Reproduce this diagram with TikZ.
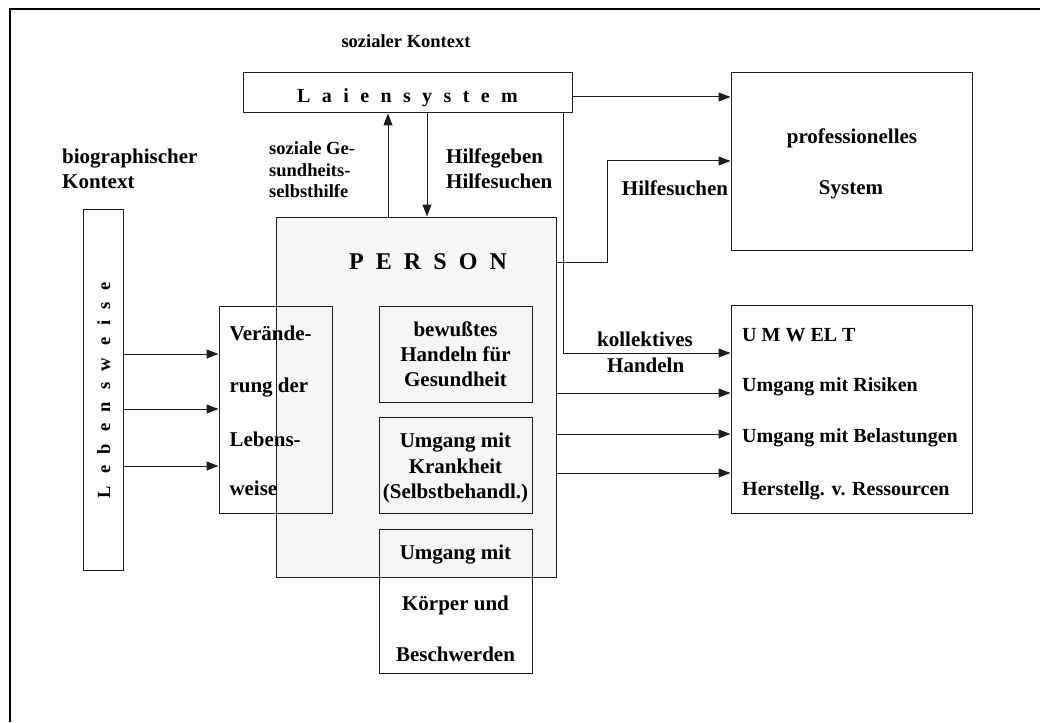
\documentclass[tikz,border=0pt]{standalone}
\usepackage{fontspec}
\setmainfont{Liberation Serif}
\usetikzlibrary{arrows.meta}
\definecolor{pfill}{RGB}{246,246,246}
\definecolor{lc}{RGB}{30,30,30}
\newcommand\gapL{\hspace{11.4pt}}
\newcommand\gapP{\hspace{12.1pt}}
\newcommand\gapW{\hspace{11.7pt}}
\begin{document}
\begin{tikzpicture}[x=1pt,y=-1pt,
  box/.style={draw=lc, line width=1pt, inner sep=0pt},
  t/.style={inner sep=0pt, anchor=base, font=\fontsize{21}{25}\selectfont\bfseries},
  tl/.style={t, anchor=base west},
  ts/.style={font=\fontsize{18.5}{22}\selectfont\bfseries},
  tu/.style={font=\fontsize{20}{24}\selectfont\bfseries},
  ln/.style={draw=lc, line width=1pt},
  arr/.style={ln, -{Triangle[length=12pt,width=9pt]}}
]
\useasboundingbox (0,0) rectangle (1040,722);
% frame
\draw[line width=2pt] (1040,9) -- (10,9) -- (10,722);

% helper coordinates
\coordinate (y97) at (0,97);
\coordinate (x388) at (388,0);
\coordinate (x427) at (427,0);
\coordinate (x563) at (563,0);
\coordinate (y353) at (0,353);
\coordinate (y262) at (0,262);
\coordinate (x607) at (607,0);
\coordinate (y161) at (0,161);

% boxes
\node[box, fill=pfill, minimum width=280pt, minimum height=360pt] (person) at (416,397) {};
\node[box, minimum width=329pt, minimum height=40pt] (lai) at (407.5,93) {};
\node[box, minimum width=241pt, minimum height=177pt] (prof) at (851.5,161.5) {};
\node[box, minimum width=241pt, minimum height=208pt] (umw) at (851.5,409) {};
\node[box, minimum width=40pt, minimum height=361pt] (leb) at (103,389.5) {};
\node[box, minimum width=113pt, minimum height=207pt] (ver) at (275.5,409.5) {};
\node[box, minimum width=153pt, minimum height=96pt] (bew) at (455.5,354) {};
\node[box, minimum width=153pt, minimum height=96pt] (kra) at (455.5,465) {};
\node[box, minimum width=153pt, minimum height=144pt] (koe) at (455.5,601) {};

% connectors
\draw[arr] (lai.east |- y97) -- (prof.west |- y97);
\draw[arr] (person.north -| x388) -- (lai.south -| x388);
\draw[arr] (lai.south -| x427) -- (person.north -| x427);
\draw[arr] (lai.south -| x563) |- (umw.west |- y353);
\draw[arr] (person.east |- y262) -| (x607 |- y161) -- (prof.west |- y161);
\foreach \yy in {354,409,466}{
  \coordinate (hl) at (0,\yy);
  \draw[arr] (leb.east |- hl) -- (ver.west |- hl);
}
\foreach \yy in {393,434,473}{
  \coordinate (hr) at (0,\yy);
  \draw[arr] (person.east |- hr) -- (umw.west |- hr);
}

% texts
\node[t, ts] (tsoz) at (406,47.3) {sozialer Kontext};
\node[tl] (tbio1) at (62,163.3) {biographischer};
\node[tl] (tbio2) at (62,189) {Kontext};
\node[tl, ts] (tsg1) at (269,154) {soziale Ge-};
\node[tl, ts] (tsg2) at (269,176.5) {sundheits-};
\node[tl, ts] (tsg3) at (269,197.7) {selbsthilfe};
\node[tl] (thg1) at (446,163.3) {Hilfegeben};
\node[tl] (thg2) at (446,188.3) {Hilfesuchen};
\node[t, tu] (tlai) at (407.5,102.7) {L\gapL a\gapL i\gapL e\gapL n\gapL s\gapL y\gapL s\gapL t\gapL e\gapL m};
\node[t] (tpro1) at (852,143.3) {professionelles};
\node[t] (tpro2) at (851,194.3) {System};
\node[t] (ths) at (675,195) {Hilfesuchen};
\node[t, font=\fontsize{24}{28}\selectfont\bfseries] (tper) at (428,269.3) {P\gapP E\gapP R\gapP S\gapP O\gapP N};
\node[t] (tkol1) at (645,346.7) {kollektives};
\node[t] (tkol2) at (645.7,372.3) {Handeln};
\node[tl, tu] (tu1) at (742,341.7) {U M W EL T};
\node[tl, tu] (tu2) at (742,391.7) {Umgang mit Risiken};
\node[tl, tu] (tu3) at (742,442.7) {Umgang mit Belastungen};
\node[tl, tu] (tu4) at (742,495) {Herstellg. v. Ressourcen};
\node[t] (tb1) at (455.5,336) {bewußtes};
\node[t] (tb2) at (455.5,361) {Handeln für};
\node[t] (tb3) at (455.5,386.7) {Gesundheit};
\node[t] (tk1) at (455.5,447.7) {Umgang mit};
\node[t] (tk2) at (455.5,473.3) {Krankheit};
\node[t] (tk3) at (455.5,498.3) {(Selbstbehandl.)};
\node[t] (tc1) at (455.5,559.3) {Umgang mit};
\node[t] (tc2) at (455.5,610) {Körper und};
\node[t] (tc3) at (455.5,661.7) {Beschwerden};
\node[tl] (tv1) at (229.3,340) {Verände-};
\node[tl] (tv2) at (229.3,392.3) {rung der};
\node[tl] (tv3) at (229.3,446.7) {Lebens-};
\node[tl] (tv4) at (229.3,495) {weise};
\node[t, font=\fontsize{18.6}{22}\selectfont\bfseries, rotate=90] (tleb) at (110,390) {L\gapW e\gapW b\gapW e\gapW n\gapW s\gapW w\gapW e\gapW i\gapW s\gapW e};
\end{tikzpicture}
\end{document}
